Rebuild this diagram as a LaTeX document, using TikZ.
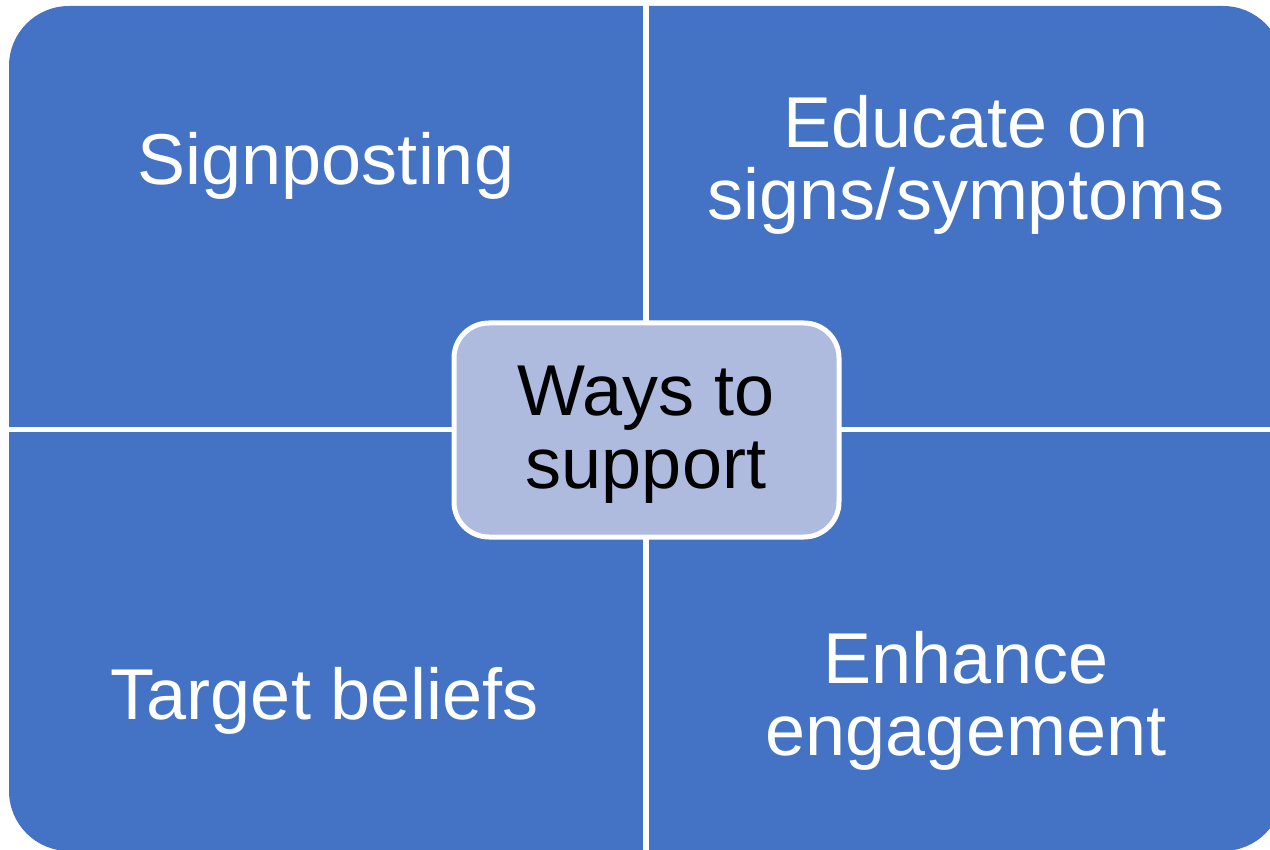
\documentclass[tikz,border=0pt]{standalone}
\usepackage{fontspec}
\setmainfont{Liberation Sans}
\definecolor{quadblue}{RGB}{68,114,196}
\definecolor{hubfill}{RGB}{174,186,222}
\begin{document}
\begin{tikzpicture}[x=1pt,y=-1pt,
  quadtext/.style={text=white,font=\fontsize{72}{72}\selectfont,align=center,anchor=base,inner sep=0pt},
  hub/.style={draw=white,line width=5pt,fill=hubfill,rounded corners=35pt,
    minimum width=385pt,minimum height=214pt,inner sep=0pt}]
\useasboundingbox (0,0) rectangle (1270,850);
\clip (0,0) rectangle (1270,850);
% four quadrants: one rounded block split by white gaps
\fill[quadblue,rounded corners=60pt] (9,6) rectangle (1283,851);
\fill[white] (643,-5) rectangle (649,860);
\fill[white] (-5,427) rectangle (1290,432);
% quadrant labels (base anchor sits on the last line's baseline)
\node[quadtext] (sign) at (326,185) {Signposting};
\node[quadtext] (edu) at (966,220) {Educate on\\signs/symptoms};
\node[quadtext] (target) at (325,719) {Target beliefs};
\node[quadtext] (enh) at (966,755) {Enhance\\engagement};
% central hub
\node[hub] (hubbox) at (646.5,430) {};
\node[quadtext,text=black,font=\fontsize{72}{73}\selectfont] (hubtext) at (646,488) {Ways to\\support};
\end{tikzpicture}
\end{document}
